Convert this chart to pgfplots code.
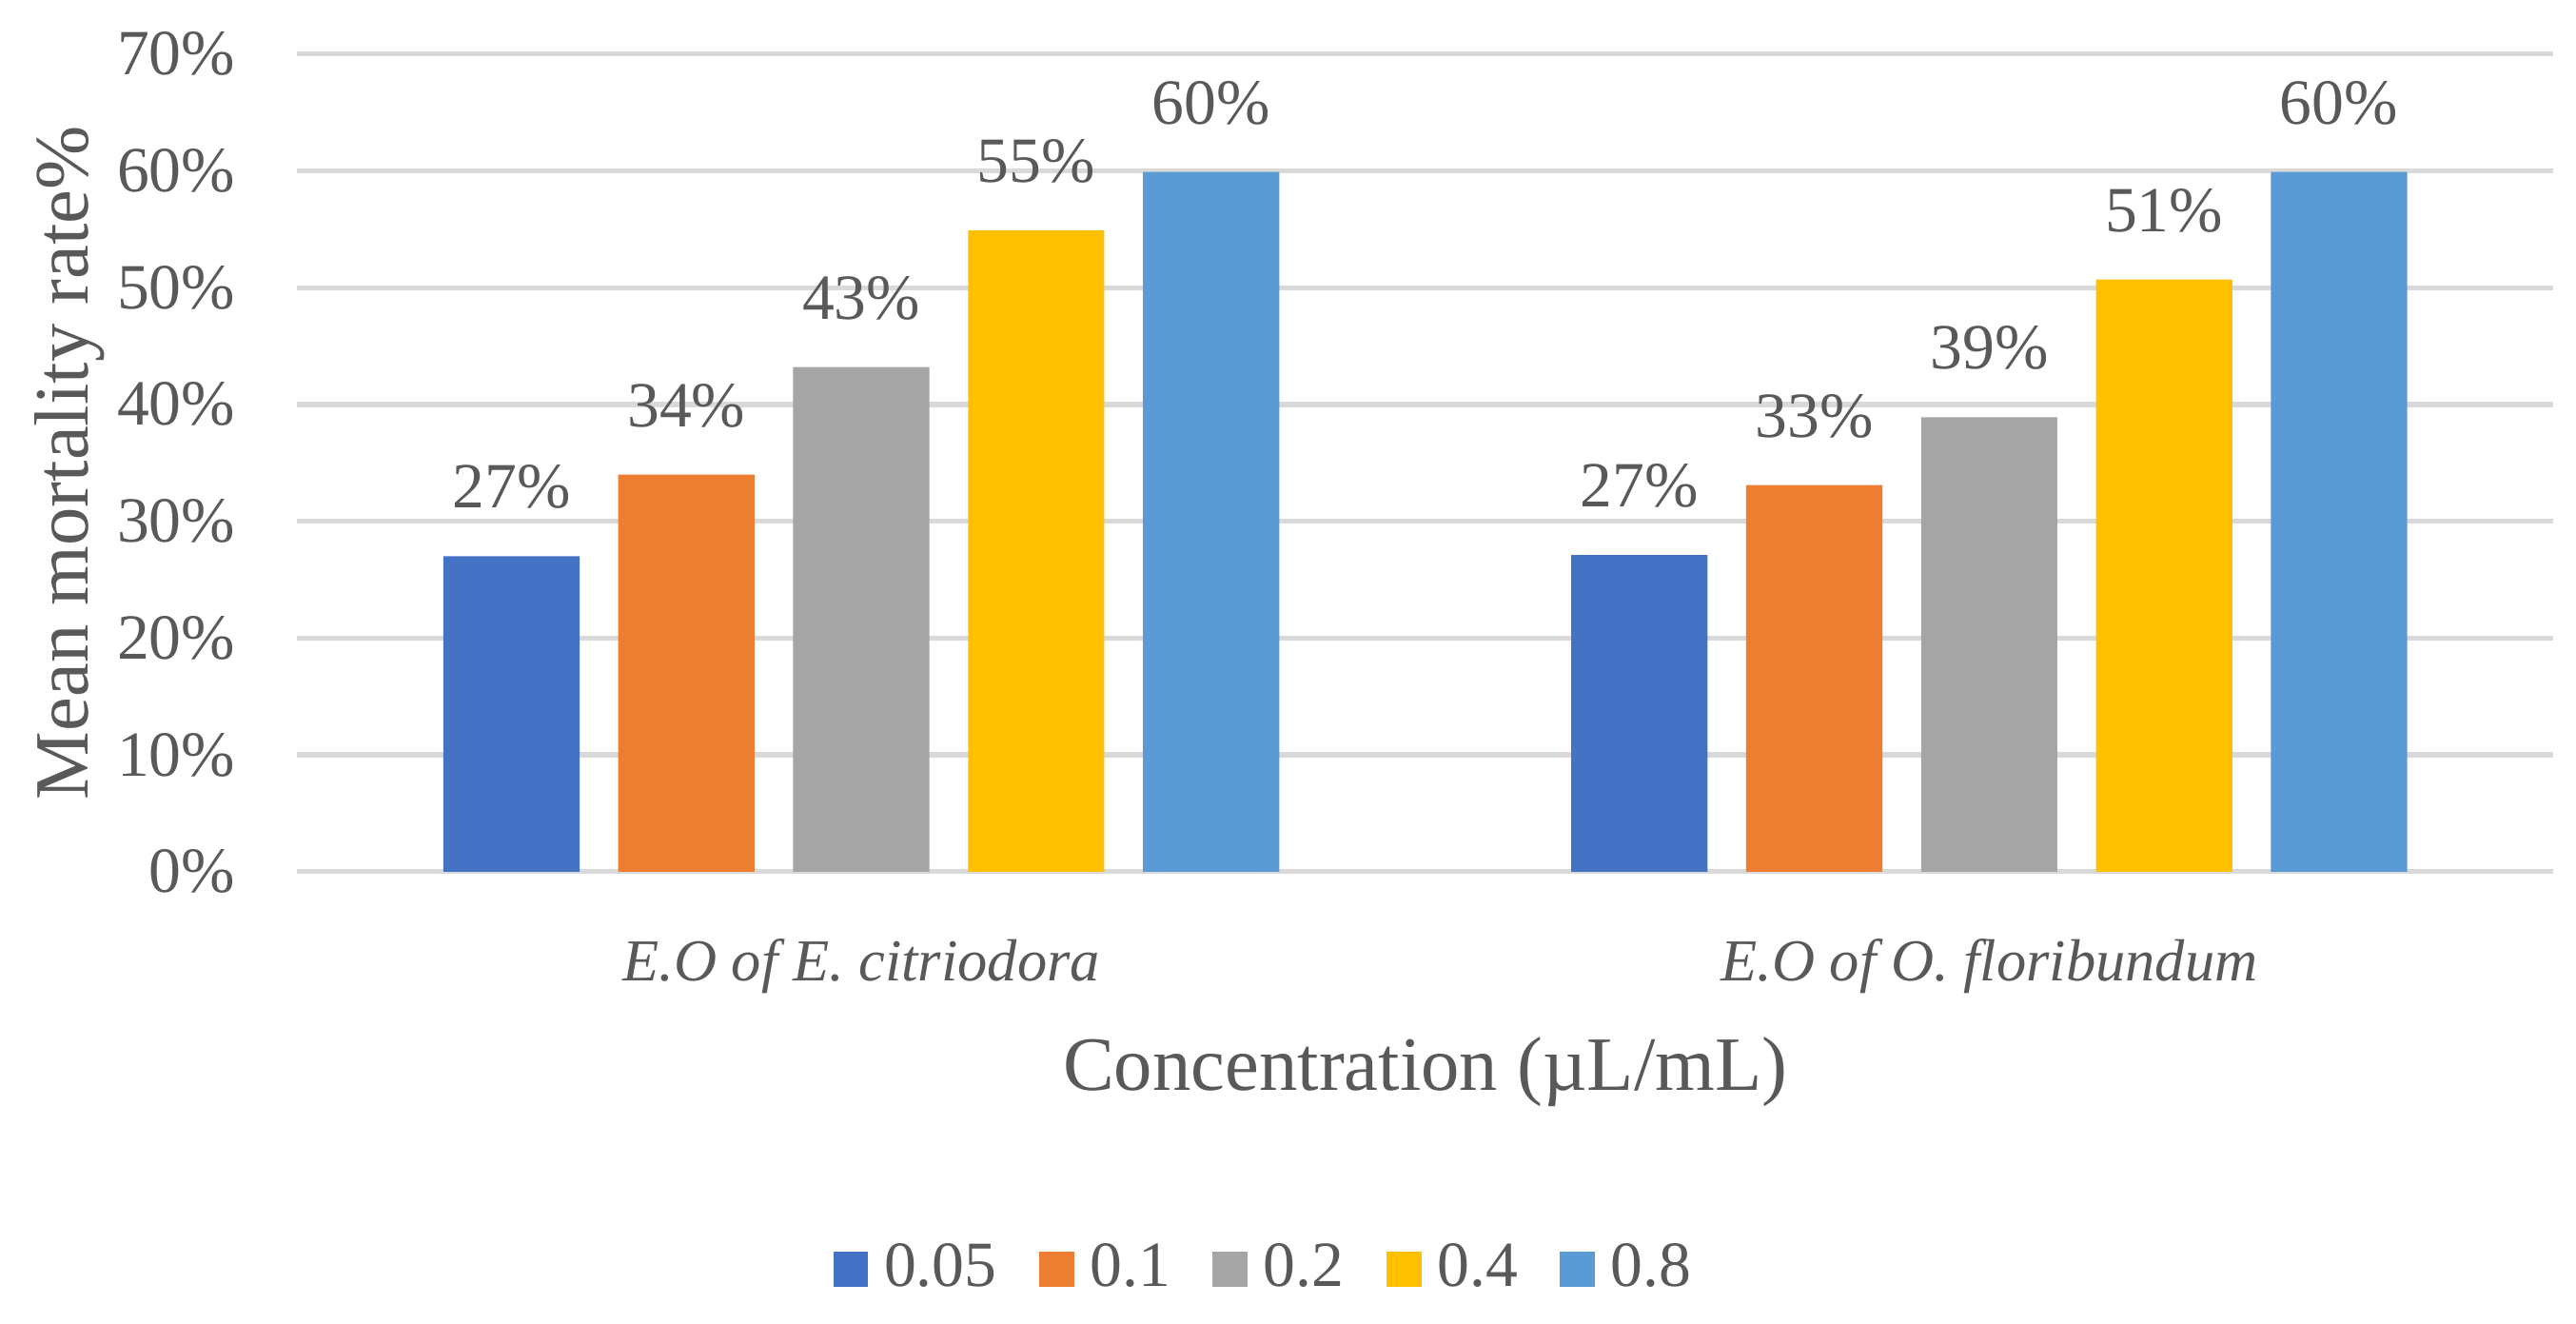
\documentclass[border=0pt]{standalone}
\usepackage{pgfplots}
\pgfplotsset{compat=1.18}
\usepackage{fontspec}
\setmainfont{Liberation Serif}

\definecolor{cA}{HTML}{4472C4}
\definecolor{cB}{HTML}{ED7D31}
\definecolor{cC}{HTML}{A5A5A5}
\definecolor{cD}{HTML}{FFC000}
\definecolor{cE}{HTML}{5B9BD5}
\definecolor{txt}{HTML}{595959}
\definecolor{gridc}{HTML}{D9D9D9}

\pgfplotsset{
  sq/.style={draw=none, fill=#1,
    legend image code/.code={\fill[#1] (0pt,-3.6pt) rectangle (7.1pt,3.6pt);}},
}

\begin{document}
\begin{tikzpicture}
\begin{axis}[
  scale only axis, width=455.3pt, height=165pt,
  ybar=7.8pt, bar width=27.5pt,
  xmin=-0.5, xmax=1.5, ymin=0, ymax=70,
  xtick={0,1},
  xticklabels={E.O of E. citriodora, E.O of O. floribundum},
  ytick={0,10,...,70},
  yticklabel={\pgfmathprintnumber{\tick}\%},
  /pgf/number format/assume math mode=true,
  ymajorgrids, grid style={gridc, line width=1pt},
  axis line style={draw=none},
  major tick length=0pt,
  tick label style={font=\fontsize{13}{15}\selectfont, text=txt},
  xticklabel style={font=\fontsize{12}{14}\selectfont\itshape, yshift=-10pt},
  yticklabel style={xshift=-9pt},
  xlabel={Concentration (µL/mL)},
  xlabel style={at={(axis description cs:0.5,-0.245)}, anchor=center,
    font=\fontsize{15.5}{18}\selectfont, text=txt},
  ylabel={Mean mortality rate\%},
  ylabel style={at={(axis description cs:-0.101,0.5)}, anchor=center,
    font=\fontsize{15.5}{18}\selectfont, text=txt},
  nodes near coords={\pgfmathprintnumber[fixed,precision=0]{\pgfplotspointmeta}\%},
  every node near coord/.append style={font=\fontsize{13}{15}\selectfont, text=txt, yshift=6pt},
  legend style={at={(0.43,-0.486)}, anchor=center, draw=none,
    legend columns=-1, font=\fontsize{13}{15}\selectfont, text=txt,
    /tikz/every odd column/.append style={column sep=1.2pt},
    /tikz/every even column/.append style={column sep=6.5pt}},
]
\addplot[sq=cA] coordinates {(0,27.0) (1,27.1)};
\addplot[sq=cB] coordinates {(0,34.0) (1,33.1)};
\addplot[sq=cC] coordinates {(0,43.2) (1,38.9)};
\addplot[sq=cD] coordinates {(0,54.9) (1,50.7)};
\addplot[sq=cE] coordinates {(0,59.9) (1,59.9)};
\legend{0.05, 0.1, 0.2, 0.4, 0.8}
\end{axis}
\pgfresetboundingbox
\path[use as bounding box] ([xshift=-60pt,yshift=-91.2pt]current axis.south west)
  rectangle ([xshift=4.6pt,yshift=10.9pt]current axis.north east);
\end{tikzpicture}
\end{document}
